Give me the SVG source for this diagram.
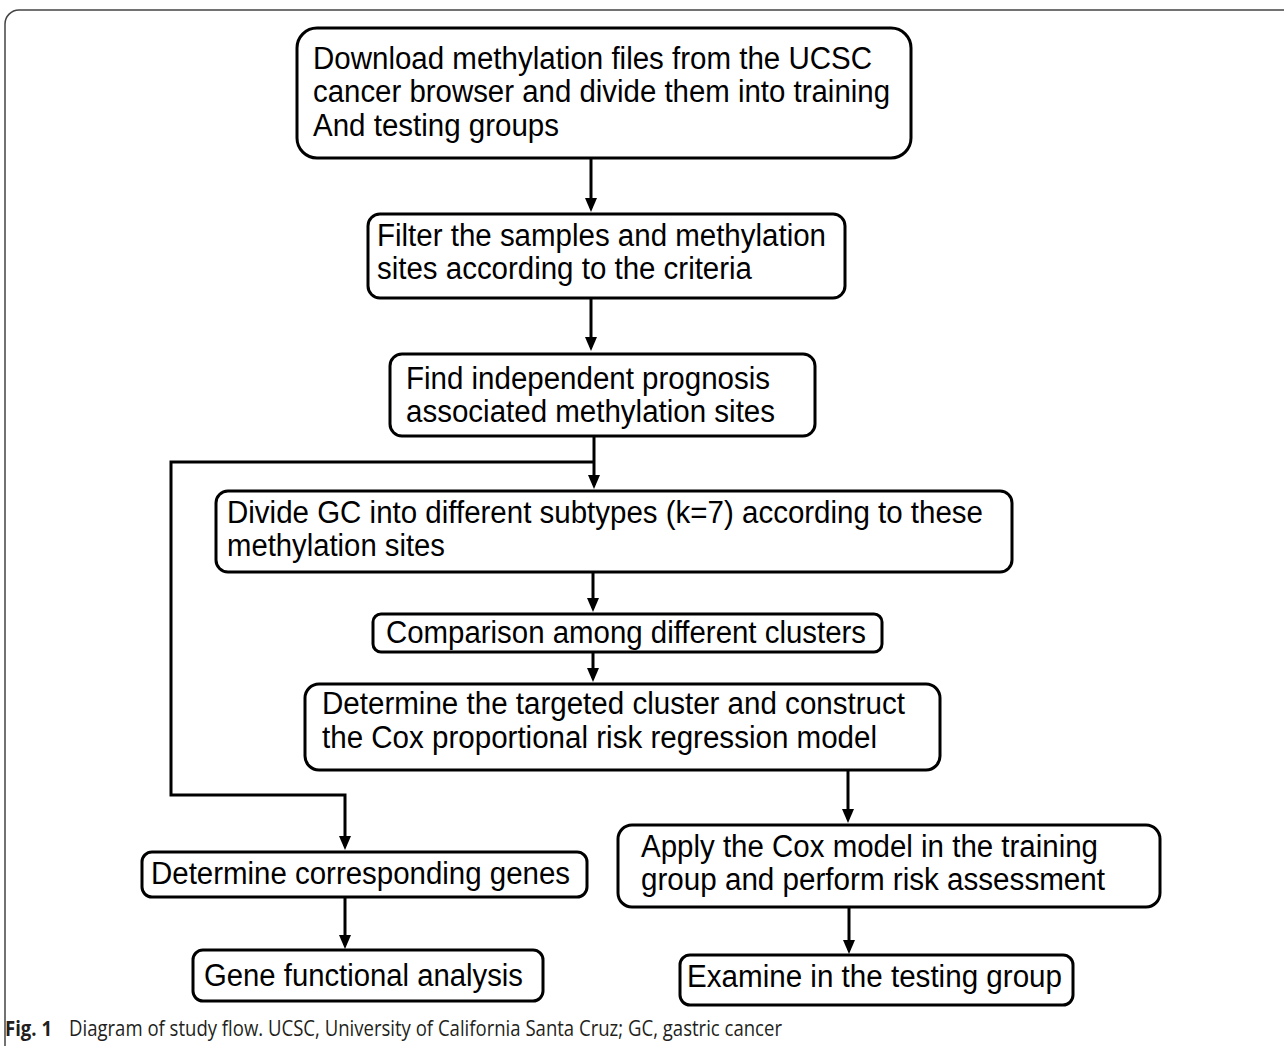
<svg xmlns="http://www.w3.org/2000/svg" width="1284" height="1046" viewBox="0 0 1284 1046">
<style>
.box{fill:#fff;stroke:#000;stroke-width:3}
.t{font-family:"Liberation Sans",Arial,sans-serif;font-size:31px;fill:#000}
.c{fill:none;stroke:#000;stroke-width:3}
.cap{font-family:"Open Sans","Noto Sans",sans-serif;font-size:21px;fill:#231f20}
</style>
<defs>
<marker id="ah" markerUnits="userSpaceOnUse" markerWidth="14" markerHeight="14" refX="10" refY="6" orient="auto">
<path d="M0,0 L14,6 L0,12 z" fill="#000"/>
</marker>
</defs>
<rect x="5" y="10" width="1300" height="1060" rx="14" fill="#fff" stroke="#444" stroke-width="1.5"/>
<g id="connectors">
<line class="c" x1="591" y1="158" x2="591" y2="208" marker-end="url(#ah)"/>
<line class="c" x1="591" y1="298" x2="591" y2="347" marker-end="url(#ah)"/>
<line class="c" x1="594" y1="436" x2="594" y2="485" marker-end="url(#ah)"/>
<polyline class="c" points="594,462 171,462 171,795 345,795 345,846" marker-end="url(#ah)"/>
<line class="c" x1="593" y1="572" x2="593" y2="608" marker-end="url(#ah)"/>
<line class="c" x1="593" y1="652" x2="593" y2="678" marker-end="url(#ah)"/>
<line class="c" x1="848" y1="770" x2="848" y2="819" marker-end="url(#ah)"/>
<line class="c" x1="849" y1="907" x2="849" y2="950" marker-end="url(#ah)"/>
<line class="c" x1="345" y1="897" x2="345" y2="945" marker-end="url(#ah)"/>
</g>
<g id="n1">
<rect class="box" x="297" y="28" width="614" height="130" rx="20"/>
<text class="t" x="313" y="69" textLength="559" lengthAdjust="spacingAndGlyphs">Download methylation files from the UCSC</text>
<text class="t" x="313" y="102" textLength="577" lengthAdjust="spacingAndGlyphs">cancer browser and divide them into training</text>
<text class="t" x="313" y="136" textLength="246" lengthAdjust="spacingAndGlyphs">And testing groups</text>
</g>
<g id="n2">
<rect class="box" x="368" y="214" width="477" height="84" rx="12"/>
<text class="t" x="377" y="246" textLength="449" lengthAdjust="spacingAndGlyphs">Filter the samples and methylation</text>
<text class="t" x="377" y="279" textLength="375" lengthAdjust="spacingAndGlyphs">sites according to the criteria</text>
</g>
<g id="n3">
<rect class="box" x="390" y="354" width="425" height="82" rx="12"/>
<text class="t" x="406" y="389" textLength="364" lengthAdjust="spacingAndGlyphs">Find independent prognosis</text>
<text class="t" x="406" y="422" textLength="369" lengthAdjust="spacingAndGlyphs">associated methylation sites</text>
</g>
<g id="n4">
<rect class="box" x="216" y="491" width="796" height="81" rx="12"/>
<text class="t" x="227" y="523" textLength="756" lengthAdjust="spacingAndGlyphs">Divide GC into different subtypes (k=7) according to these</text>
<text class="t" x="227" y="556" textLength="218" lengthAdjust="spacingAndGlyphs">methylation sites</text>
</g>
<g id="n5">
<rect class="box" x="373" y="614" width="509" height="38" rx="8"/>
<text class="t" x="386" y="643" textLength="480" lengthAdjust="spacingAndGlyphs">Comparison among different clusters</text>
</g>
<g id="n6">
<rect class="box" x="305" y="684" width="635" height="86" rx="14"/>
<text class="t" x="322" y="714" textLength="583" lengthAdjust="spacingAndGlyphs">Determine the targeted cluster and construct</text>
<text class="t" x="322" y="748" textLength="555" lengthAdjust="spacingAndGlyphs">the Cox proportional risk regression model</text>
</g>
<g id="n7">
<rect class="box" x="618" y="825" width="542" height="82" rx="14"/>
<text class="t" x="641" y="857" textLength="457" lengthAdjust="spacingAndGlyphs">Apply the Cox model in the training</text>
<text class="t" x="641" y="890" textLength="464" lengthAdjust="spacingAndGlyphs">group and perform risk assessment</text>
</g>
<g id="n8">
<rect class="box" x="680" y="955" width="393" height="50" rx="10"/>
<text class="t" x="687" y="987" textLength="375" lengthAdjust="spacingAndGlyphs">Examine in the testing group</text>
</g>
<g id="n9">
<rect class="box" x="142" y="852" width="445" height="45" rx="10"/>
<text class="t" x="151" y="884" textLength="419" lengthAdjust="spacingAndGlyphs">Determine corresponding genes</text>
</g>
<g id="n10">
<rect class="box" x="193" y="950" width="350" height="51" rx="10"/>
<text class="t" x="204" y="986" textLength="319" lengthAdjust="spacingAndGlyphs">Gene functional analysis</text>
</g>
<g id="caption">
<text class="cap" x="5" y="1036" font-weight="bold" textLength="47" lengthAdjust="spacingAndGlyphs">Fig. 1</text>
<text class="cap" x="69" y="1036" textLength="713" lengthAdjust="spacingAndGlyphs">Diagram of study flow. UCSC, University of California Santa Cruz; GC, gastric cancer</text>
</g>
</svg>
